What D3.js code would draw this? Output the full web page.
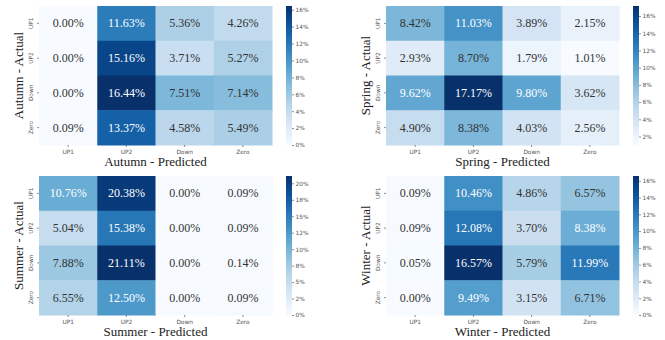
<!DOCTYPE html>
<html>
<head>
<meta charset="utf-8">
<script src="https://cdn.jsdelivr.net/npm/d3@7"></script>
<style>
  body { margin: 0; background: #fff; }
  svg { display: block; }
  .cell-text { font-family: "Liberation Serif", "Times New Roman", serif; font-size: 12px; }
  .title { font-family: "Liberation Serif", "Times New Roman", serif; font-size: 13px; fill: #222; }
  .tick text { font-family: "DejaVu Sans", sans-serif; font-size: 5.8px; fill: #555; }
  .tick line { stroke: #444; stroke-width: 0.6; }
</style>
</head>
<body>
<div id="chart"></div>
<script>
const categories = ['UP1', 'UP2', 'Down', 'Zero']

// rows = actual, columns = predicted (percent)
const autumnValues = [
    [0.00, 11.63, 5.36, 4.26],
    [0.00, 15.16, 3.71, 5.27],
    [0.00, 16.44, 7.51, 7.14],
    [0.09, 13.37, 4.58, 5.49]
]
const springValues = [
    [8.42, 11.03, 3.89, 2.15],
    [2.93, 8.70, 1.79, 1.01],
    [9.62, 17.17, 9.80, 3.62],
    [4.90, 8.38, 4.03, 2.56]
]
const summerValues = [
    [10.76, 20.38, 0.00, 0.09],
    [5.04, 15.38, 0.00, 0.09],
    [7.88, 21.11, 0.00, 0.14],
    [6.55, 12.50, 0.00, 0.09]
]
const winterValues = [
    [0.09, 10.46, 4.86, 6.57],
    [0.09, 12.08, 3.70, 8.38],
    [0.05, 16.57, 5.79, 11.99],
    [0.00, 9.49, 3.15, 6.71]
]

const autumnTicks = [0, 2, 4, 6, 8, 10, 12, 14, 16]
const springTicks = [2, 4, 6, 8, 10, 12, 14, 16]
const summerTicks = [0, 2.5, 5, 7.5, 10, 12.5, 15, 17.5, 20]
const summerTickLabels = ['0%', '2%', '5%', '8%', '10%', '12%', '15%', '18%', '20%']
const winterTicks = [0, 2, 4, 6, 8, 10, 12, 14, 16]

const width = 665
const height = 340

const panels = [
    {name: 'Autumn', values: autumnValues, ticks: autumnTicks, x: 39, y: 6},
    {name: 'Spring', values: springValues, ticks: springTicks, x: 386, y: 6},
    {name: 'Summer', values: summerValues, ticks: summerTicks, tickLabels: summerTickLabels, x: 39, y: 176},
    {name: 'Winter', values: winterValues, ticks: winterTicks, x: 386, y: 176}
]

const svg = d3.select('#chart')
    .append('svg')
    .attr('width', width)
    .attr('height', height)

const defs = svg.append('defs')
const mapW = 233
const mapH = 139

panels.forEach((p, i) => {
    const flat = p.values.flat()
    const lo = d3.min(flat)
    const hi = d3.max(flat)
    const color = d3.scaleSequential(d3.interpolateBlues).domain([lo, hi])

    const g = svg.append('g').attr('transform', `translate(${p.x},${p.y})`)

    const x = d3.scaleBand().domain(categories).range([0, mapW])
    const y = d3.scaleBand().domain(categories).range([0, mapH])

    const cells = p.values.flatMap((row, r) => row.map((v, c) => ({
        actual: categories[r], predicted: categories[c], value: v
    })))

    g.selectAll('rect.cell')
        .data(cells)
        .enter()
        .append('rect')
        .attr('class', 'cell')
        .attr('x', d => x(d.predicted))
        .attr('y', d => y(d.actual))
        .attr('width', x.bandwidth() + 0.5)
        .attr('height', y.bandwidth() + 0.5)
        .attr('fill', d => color(d.value))

    g.selectAll('text.cell-text')
        .data(cells)
        .enter()
        .append('text')
        .attr('class', 'cell-text')
        .attr('x', d => x(d.predicted) + x.bandwidth() / 2)
        .attr('y', d => y(d.actual) + y.bandwidth() / 2)
        .attr('text-anchor', 'middle')
        .attr('dominant-baseline', 'central')
        .attr('fill', d => (d.value - lo) / (hi - lo) > 0.49 ? '#fff' : '#333')
        .text(d => d.value.toFixed(2) + '%')

    // axes
    const xAxis = g.append('g')
        .attr('transform', `translate(0,${mapH})`)
        .call(d3.axisBottom(x).tickSize(2).tickPadding(3))
    xAxis.select('.domain').remove()

    const yAxis = g.append('g')
        .call(d3.axisLeft(y).tickSize(2).tickPadding(2))
    yAxis.select('.domain').remove()
    yAxis.selectAll('.tick text')
        .attr('transform', 'rotate(-90)')
        .attr('text-anchor', 'middle')
        .attr('x', 0)
        .attr('y', -6)
        .attr('dy', '0')

    // titles
    g.append('text')
        .attr('class', 'title')
        .attr('x', mapW / 2)
        .attr('y', mapH + 21)
        .attr('text-anchor', 'middle')
        .text(`${p.name} - Predicted`)

    g.append('text')
        .attr('class', 'title')
        .attr('transform', `translate(-16,${mapH / 2}) rotate(-90)`)
        .attr('text-anchor', 'middle')
        .text(`${p.name} - Actual`)

    // colorbar
    const gradId = 'grad' + i
    const grad = defs.append('linearGradient')
        .attr('id', gradId)
        .attr('x1', 0).attr('y1', 1).attr('x2', 0).attr('y2', 0)
    d3.range(0, 1.0001, 0.1).forEach(t => grad.append('stop')
        .attr('offset', t)
        .attr('stop-color', d3.interpolateBlues(t)))

    const cbX = mapW + 14
    const cbW = 6
    g.append('rect')
        .attr('x', cbX)
        .attr('y', 0)
        .attr('width', cbW)
        .attr('height', mapH)
        .attr('fill', `url(#${gradId})`)

    const cbScale = d3.scaleLinear().domain([lo, hi]).range([mapH, 0])
    const cbAxis = d3.axisRight(cbScale)
        .tickValues(p.ticks)
        .tickSize(2)
        .tickPadding(1.5)
        .tickFormat((d, k) => p.tickLabels ? p.tickLabels[k] : d + '%')
    const cb = g.append('g')
        .attr('transform', `translate(${cbX + cbW},0)`)
        .call(cbAxis)
    cb.select('.domain').remove()
})
</script>
</body>
</html>
